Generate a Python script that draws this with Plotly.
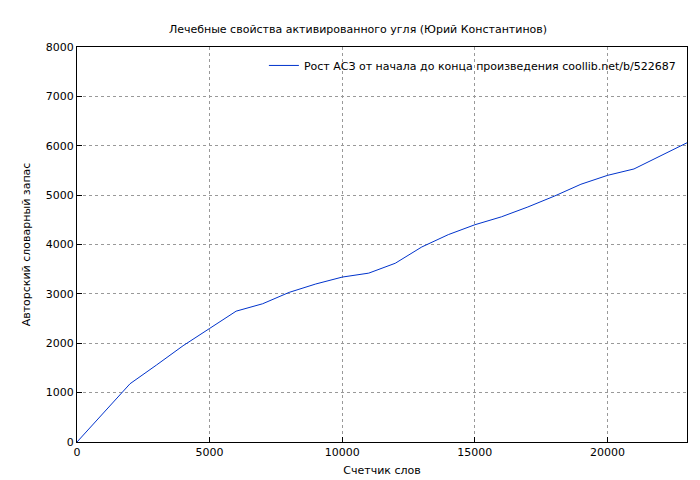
import plotly.graph_objects as go

words = [0, 1000, 2000, 3000, 4000, 5000, 6000, 7000, 8000, 9000, 10000, 11000,
         12000, 13000, 14000, 15000, 16000, 17000, 18000, 19000, 20000, 21000, 22000, 23000]
vocab = [0, 600, 1180, 1560, 1950, 2300, 2650, 2800, 3030, 3200, 3340, 3420,
         3620, 3950, 4200, 4400, 4560, 4760, 4980, 5220, 5400, 5530, 5800, 6060]

fig = go.Figure()
fig.add_trace(go.Scatter(x=words, y=vocab, mode="lines",
                         line=dict(color="#0033cc", width=1),
                         name="Рост АСЗ от начала до конца произведения coollib.net/b/522687"))
ax = dict(showline=True, mirror=True, linecolor="black", linewidth=1,
          showgrid=True, gridcolor="#999999", griddash="dot", gridwidth=1,
          ticks="inside", ticklen=5, tickcolor="black", zeroline=False,
          automargin=False, tickformat="d",
          tickfont=dict(size=11, color="black"))
fig.update_layout(
    width=700, height=480, plot_bgcolor="white", paper_bgcolor="white",
    font=dict(family="DejaVu Sans", size=11, color="black"),
    margin=dict(l=69, r=21, t=39, b=46),
    title=dict(text="Лечебные свойства активированного угля (Юрий Константинов)",
               x=0.5, xanchor="center", y=0.965, font=dict(size=11)),
    xaxis=dict(ax, range=[0, 23000], dtick=5000,
               title=dict(text="Счетчик слов", standoff=8, font=dict(size=11))),
    yaxis=dict(ax, range=[0, 8000], dtick=1000,
               title=dict(text="Авторский словарный запас", standoff=12, font=dict(size=11))),
    showlegend=True,
    legend=dict(x=0.99, y=0.99, xanchor="right", yanchor="top", bgcolor="rgba(0,0,0,0)",
                font=dict(size=11)),
)
fig.write_html("out.html")
